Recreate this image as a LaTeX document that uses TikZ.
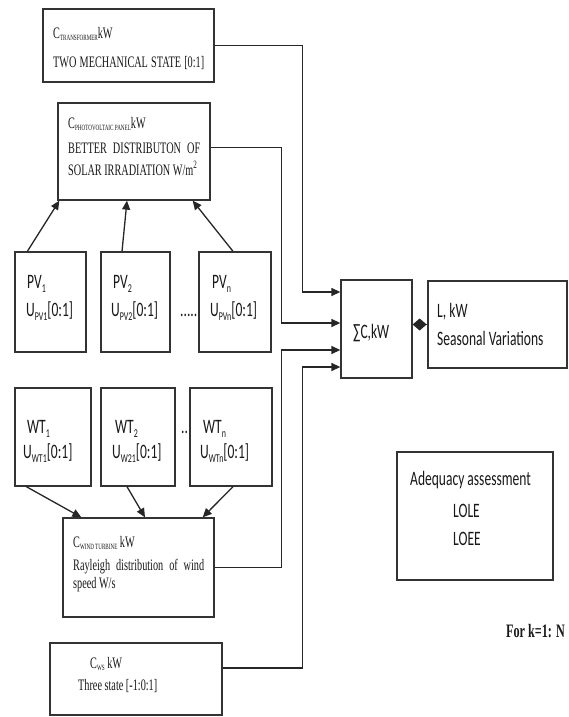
\documentclass[tikz,border=0pt]{standalone}
\usepackage{fontspec}
\setmainfont{Liberation Serif}
\newfontfamily\calf[FakeStretch=0.66]{Carlito}
\newfontfamily\tnrf[FakeStretch=0.64]{Liberation Serif}
\usetikzlibrary{arrows.meta,calc}
\newcommand\sbs[1]{\raisebox{-0.22em}{\fontsize{12}{12}\selectfont #1}}
\newcommand\tsub[1]{\raisebox{-2pt}{\fontsize{8}{8}\selectfont #1}}
\begin{document}
\begin{tikzpicture}[x=1pt,y=-1pt,
 box/.style={draw=black!80,line width=1.3pt,inner sep=0pt},
 txt/.style={inner sep=0pt,anchor=base west,text=black!90},
 cal/.style={txt,font=\calf\fontsize{20.5}{24}\selectfont},
 tnr/.style={txt,font=\tnrf\fontsize{16}{18}\selectfont},
 conn/.style={draw=black!85,line width=1.3pt},
 arr/.style={conn,-{Triangle[length=9pt,width=8pt]}},
]
\useasboundingbox (0,0) rectangle (568,717);
\fill[white] (0,0) rectangle (568,717);

% boxes
\node[box,minimum width=171pt,minimum height=73pt] (trans) at (128.5,45.5) {};
\node[box,minimum width=152pt,minimum height=97pt] (pvp) at (134,151.5) {};
\node[box,minimum width=71pt,minimum height=100pt] (pv1) at (50.5,302) {};
\node[box,minimum width=69pt,minimum height=100pt] (pv2) at (135.5,302) {};
\node[box,minimum width=72pt,minimum height=100pt] (pvn) at (235,302) {};
\node[box,minimum width=76pt,minimum height=98pt] (wt1) at (53,437) {};
\node[box,minimum width=74pt,minimum height=98pt] (wt2) at (138,437) {};
\node[box,minimum width=82pt,minimum height=98pt] (wtn) at (231,437) {};
\node[box,minimum width=151pt,minimum height=99pt] (wind) at (138.5,567.5) {};
\node[box,minimum width=172pt,minimum height=72pt] (ws) at (136,679) {};
\node[box,minimum width=71pt,minimum height=98pt] (sum) at (376.5,329) {};
\node[box,minimum width=139pt,minimum height=87pt] (L) at (497.5,324.5) {};
\node[box,minimum width=156pt,minimum height=128pt] (adeq) at (475,516) {};

% texts
\node[tnr] (t1) at (53,38) {C\tsub{TRANSFORMER}kW};
\node[tnr] (t2) at (53,67) {\makebox[151pt][s]{TWO MECHANICAL STATE [0:1]}};
\node[tnr] (p1) at (68,128) {C\tsub{PHOTOVOLTAIC PANEL}kW};
\node[tnr] (p2) at (68,153) {\makebox[132pt][s]{BETTER DISTRIBUTON OF}};
\node[tnr] (p3) at (68,175) {SOLAR IRRADIATION W/m\textsuperscript{2}};
\node[tnr] (w1) at (73,547) {C\tsub{WIND TURBINE} kW};
\node[tnr] (w2) at (73,570) {\makebox[131pt][s]{Rayleigh distribution of wind}};
\node[tnr] (w3) at (73,588) {speed W/s};
\node[tnr] (s1) at (90,668) {C\tsub{WS} kW};
\node[tnr] (s2) at (78,690) {Three state [-1:0:1]};

\node[cal] (pv1a) at (27,288) {PV\sbs{1}};
\node[cal] (pv1b) at (26,316) {U\sbs{PV1}[0:1]};
\node[cal] (pv2a) at (113,288) {PV\sbs{2}};
\node[cal] (pv2b) at (111,316) {U\sbs{PV2}[0:1]};
\node[cal] (pvna) at (212,288) {PV\sbs{n}};
\node[cal] (pvnb) at (210,316) {U\sbs{PVn}[0:1]};
\node[cal] (dots1) at (180,316) {.....};

\node[cal] (wt1a) at (27,433) {WT\sbs{1}};
\node[cal] (wt1b) at (23,458) {U\sbs{WT1}[0:1]};
\node[cal] (wt2a) at (115,433) {WT\sbs{2}};
\node[cal] (wt2b) at (112,458) {U\sbs{W21}[0:1]};
\node[cal] (wtna) at (203,433) {WT\sbs{n}};
\node[cal] (wtnb) at (200,458) {U\sbs{WTn}[0:1]};
\node[cal] (dots2) at (181,433) {..};

\node[cal] (sumt) at (353,338) {∑C,kW};
\node[cal] (l1) at (437,317) {L, kW};
\node[cal] (l2) at (437,345) {Seasonal Variations};
\node[cal] (a1) at (410,485) {Adequacy assessment};
\node[cal] (a2) at (453,517) {LOLE};
\node[cal] (a3) at (453,545) {LOEE};
\node[txt,font=\tnrf\bfseries\fontsize{19}{22}\selectfont] (fork) at (506,637) {For k=1: N};

% connectors into the sum
\draw[arr] (trans.east) -| ($(sum.west)+(-38,-37)$) -- ($(sum.west)+(0,-37)$);
\draw[arr] ($(pvp.east)+(0,-4)$) -| ($(sum.west)+(-59,-6)$) -- ($(sum.west)+(0,-6)$);
\draw[arr] (wind.east) -| ($(sum.west)+(-59,21)$) -- ($(sum.west)+(0,21)$);
\draw[arr] ($(ws.east)+(0,-11)$) -| ($(sum.west)+(-38,38)$) -- ($(sum.west)+(0,38)$);
\draw[conn,-{Diamond[length=14pt,width=12pt]}] (L.west) -- (sum.east |- L.west);

% PV arrows
\draw[arr] ($(pv1.north west)+(13,0)$) -- ($(pvp.south west)+(2,0)$);
\draw[arr] ($(pv2.north)+(-13.5,0)$) -- ($(pvp.south)+(-7,0)$);
\draw[arr] ($(pvn.north)+(-2,0)$) -- ($(pvp.south east)+(-18,0)$);

% WT arrows
\draw[arr] ($(wt1.south west)+(12,0)$) -- ($(wind.north west)+(19,0)$);
\draw[arr] ($(wt2.south)+(-11,0)$) -- ($(wind.north)+(6.5,0)$);
\draw[arr] ($(wtn.south)+(2,0)$) -- ($(wind.north east)+(-12,0)$);
\end{tikzpicture}
\end{document}
